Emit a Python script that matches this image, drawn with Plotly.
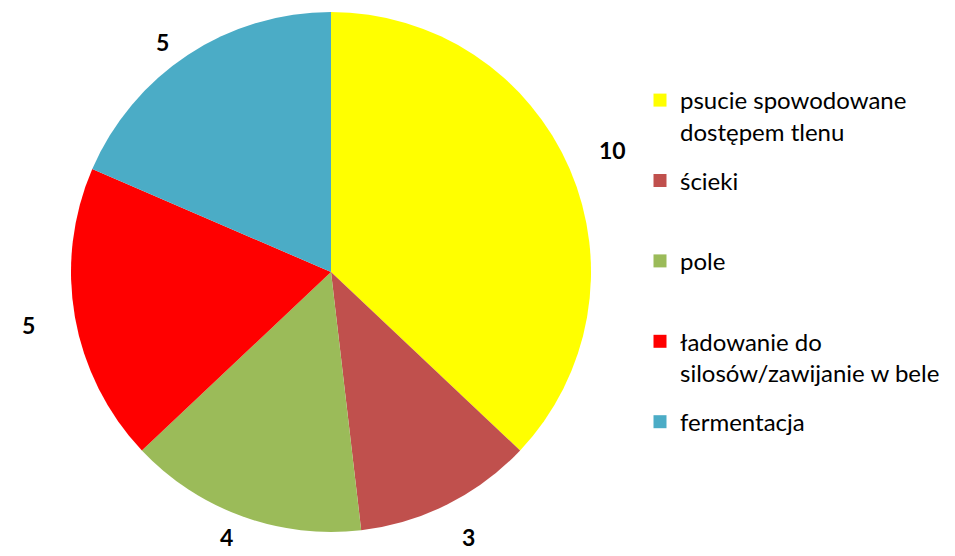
import math
import plotly.graph_objects as go

categories = [
    "psucie spowodowane<br>dostępem tlenu",
    "ścieki",
    "pole",
    "ładowanie do<br>silosów/zawijanie w bele",
    "fermentacja",
]
values = [10, 3, 4, 5, 5]
colors = ["#FFFF00", "#C0504D", "#9BBB59", "#FF0000", "#4BACC6"]

W, H = 955, 556
CX, CY, R = 331, 272, 260  # pie geometry in pixels

fig = go.Figure()
fig.add_trace(go.Pie(
    labels=categories,
    values=values,
    sort=False,
    direction="clockwise",
    rotation=0,
    marker=dict(colors=colors, line=dict(width=0)),
    textinfo="none",
    hoverinfo="label+value",
    showlegend=False,
    domain=dict(x=[(CX - R) / W, (CX + R) / W],
                y=[(H - CY - R) / H, (H - CY + R) / H]),
))

# legend entries (one group per category so spacing can be controlled)
for i, (c, col) in enumerate(zip(categories, colors)):
    n = c.count("<br>") + 1
    label = c + "<br>\u00a0" * (2 - n)
    fig.add_trace(go.Scatter(
        x=[None], y=[None], mode="markers",
        marker=dict(symbol="square", size=13, color=col),
        name=label, legendgroup=f"g{i}", showlegend=True,
        hoverinfo="skip",
    ))

# value labels outside the pie, along each slice's mid angle,
# kept inside the canvas
total = sum(values)
cum = 0
annotations = []
for v in values:
    mid = (cum + v / 2) / total * 2 * math.pi
    cum += v
    rl = R * 1.18
    px = CX + rl * math.sin(mid)
    py = CY - rl * math.cos(mid)
    py = min(max(py, 42), H - 19)
    annotations.append(dict(
        x=px / W, y=1 - py / H, xref="paper", yref="paper",
        text=f"<b>{v}</b>", showarrow=False,
        font=dict(family="Lato", size=23, color="black"),
        xanchor="center", yanchor="middle", borderpad=0,
    ))

fig.update_layout(
    width=W, height=H,
    margin=dict(l=0, r=0, t=0, b=0),
    paper_bgcolor="white",
    plot_bgcolor="white",
    showlegend=True,
    xaxis=dict(visible=False),
    yaxis=dict(visible=False),
    legend=dict(
        x=640 / W, xanchor="left",
        y=1 - 78 / H, yanchor="top",
        valign="top",
        tracegroupgap=15,
        font=dict(family="Lato", size=24, color="black"),
        bgcolor="rgba(0,0,0,0)",
        itemclick=False, itemdoubleclick=False,
    ),
    annotations=annotations,
)

fig.write_html("out.html", config={"displayModeBar": False},
               post_script="document.body.style.margin='0px';")
